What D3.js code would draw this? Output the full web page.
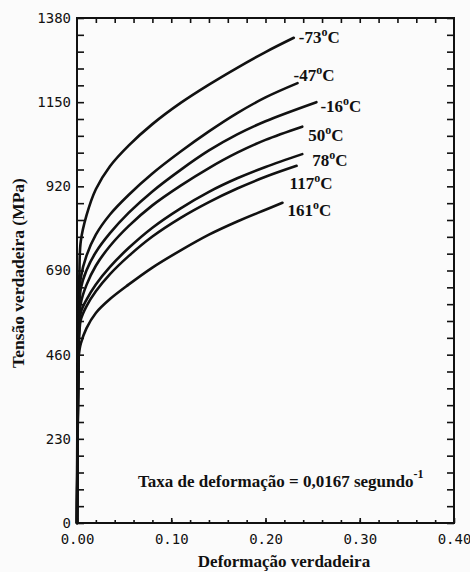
<!DOCTYPE html>
<html>
<head>
<meta charset="utf-8">
<script src="https://cdn.jsdelivr.net/npm/d3@7"></script>
<style>
  body { margin: 0; background: #fbfbfb; }
  .tick text { font-family: "DejaVu Sans Mono", monospace; font-size: 14px; fill: #111; }
  .lbl { font-family: "Liberation Serif", "Times New Roman", serif; font-weight: bold; fill: #111; }
</style>
</head>
<body>
<svg></svg>
<script>
// Curves: [strain, true stress in MPa]
var tempLabels = ["-73", "-47", "-16", "50", "78", "117", "161"];

var curveM73 = [[0,0],[0.0015,470],[0.0025,680],[0.004,770],[0.01,840],[0.02,912],[0.035,975],[0.055,1032],
                [0.08,1090],[0.11,1148],[0.14,1198],[0.17,1244],[0.2,1287],[0.23,1326]];
var curveM47 = [[0,0],[0.0015,470],[0.0025,600],[0.004,670],[0.01,730],[0.02,788],[0.035,843],[0.055,897],
                [0.08,955],[0.11,1015],[0.14,1070],[0.17,1120],[0.2,1163],[0.234,1202]];
var curveM16 = [[0,0],[0.0015,470],[0.0025,580],[0.004,640],[0.01,690],[0.02,740],[0.035,792],[0.055,848],
                [0.08,906],[0.11,965],[0.14,1018],[0.17,1062],[0.2,1098],[0.254,1150]];
var curve50  = [[0,0],[0.0015,470],[0.0025,555],[0.004,600],[0.01,650],[0.02,703],[0.035,757],[0.055,812],
                [0.08,868],[0.11,922],[0.14,970],[0.17,1012],[0.2,1047],[0.239,1083]];
var curve78  = [[0,0],[0.0015,470],[0.0025,535],[0.004,575],[0.01,610],[0.02,652],[0.035,700],[0.055,752],
                [0.08,807],[0.11,860],[0.14,905],[0.17,942],[0.2,973],[0.239,1008]];
var curve117 = [[0,0],[0.0015,470],[0.0025,520],[0.004,555],[0.01,592],[0.02,633],[0.035,680],[0.055,730],
                [0.08,783],[0.11,834],[0.14,877],[0.17,914],[0.2,946],[0.233,976]];
var curve161 = [[0,0],[0.0015,445],[0.0025,470],[0.004,490],[0.01,532],[0.02,574],[0.035,612],[0.055,652],
                [0.08,698],[0.11,745],[0.14,788],[0.17,824],[0.2,856],[0.218,875]];

var curves = [curveM73, curveM47, curveM16, curve50, curve78, curve117, curve161];

var yTickLabels = [0, 230, 460, 690, 920, 1150, 1380];
var xTickLabels = [0, 0.1, 0.2, 0.3, 0.4];

// label offsets from the end of each curve (layout only)
var labelShift = [[5,5],[-4,-2],[4,10],[6,14],[10,12],[-7,23],[5,13]];

var width = 470;
var height = 572;
var padLeft = 77, padRight = 454, padTop = 18, padBottom = 523;

var svg = d3.select("svg")
    .attr("width", width)
    .attr("height", height);

var xScale = d3.scaleLinear().domain([0, 0.4]).range([padLeft, padRight]);
var yScale = d3.scaleLinear().domain([0, 1380]).range([padBottom, padTop]);

// Y axis left, ticks pointing in
svg.append("g")
    .attr("transform", "translate(" + padLeft + ",0)")
    .call(d3.axisLeft(yScale)
        .tickValues(d3.range(0, 1381, 46))
        .tickSizeInner(-7).tickSizeOuter(0).tickPadding(6)
        .tickFormat(function(d) { return yTickLabels.indexOf(d) >= 0 ? d : ""; }));

// right side ticks
svg.append("g")
    .attr("transform", "translate(" + padRight + ",0)")
    .call(d3.axisRight(yScale)
        .tickValues(d3.range(0, 1381, 46))
        .tickSizeInner(-7).tickSizeOuter(0)
        .tickFormat(""));

// top ticks
svg.append("g")
    .attr("transform", "translate(0," + padTop + ")")
    .call(d3.axisTop(xScale)
        .tickValues(d3.range(0.02, 0.399, 0.02))
        .tickSizeInner(-5).tickSizeOuter(0)
        .tickFormat(""));

// bottom minor ticks
svg.append("g")
    .attr("transform", "translate(0," + padBottom + ")")
    .call(d3.axisBottom(xScale)
        .tickValues(d3.range(0.02, 0.399, 0.02))
        .tickSizeInner(-3).tickSizeOuter(0)
        .tickFormat(""));

// bottom labels
svg.append("g")
    .attr("transform", "translate(0," + padBottom + ")")
    .call(d3.axisBottom(xScale)
        .tickValues(xTickLabels)
        .tickSizeInner(-5).tickSizeOuter(0).tickPadding(11)
        .tickFormat(d3.format(".2f")));

svg.selectAll(".domain").remove();
svg.selectAll(".tick line").attr("stroke", "#111").attr("stroke-width", 1.6);

// frame
svg.append("rect")
    .attr("x", padLeft).attr("y", padTop)
    .attr("width", padRight - padLeft).attr("height", padBottom - padTop)
    .attr("fill", "none")
    .attr("stroke", "#111")
    .attr("stroke-width", 2);

// curves
var line = d3.line()
    .x(function(d) { return xScale(d[0]); })
    .y(function(d) { return yScale(d[1]); })
    .curve(d3.curveCatmullRom.alpha(0.5));

svg.append("g")
  .selectAll("path")
  .data(curves)
  .enter()
  .append("path")
    .attr("d", line)
    .attr("fill", "none")
    .attr("stroke", "#111")
    .attr("stroke-width", 2.6)
    .attr("stroke-linecap", "round");

// temperature labels
var lbl = svg.append("g")
  .selectAll("text")
  .data(curves)
  .enter()
  .append("text")
    .attr("class", "lbl")
    .style("font-size", "17px")
    .attr("x", function(d, i) { return xScale(d[d.length - 1][0]) + labelShift[i][0]; })
    .attr("y", function(d, i) { return yScale(d[d.length - 1][1]) + labelShift[i][1]; });

lbl.append("tspan").text(function(d, i) { return tempLabels[i]; });
lbl.append("tspan").attr("dy", "-7").style("font-size", "12px").text("o");
lbl.append("tspan").attr("dy", "7").text("C");

// strain rate note
var note = svg.append("text")
    .attr("class", "lbl")
    .attr("x", 138)
    .attr("y", 487)
    .style("font-size", "17px");
note.append("tspan").text("Taxa de deformação = 0,0167 segundo");
note.append("tspan").attr("dy", "-9").style("font-size", "12px").text("-1");

// axis titles
svg.append("text")
    .attr("class", "lbl")
    .attr("x", 284)
    .attr("y", 567)
    .style("text-anchor", "middle")
    .style("font-size", "17px")
    .text("Deformação verdadeira");

svg.append("text")
    .attr("class", "lbl")
    .attr("transform", "rotate(-90)")
    .attr("x", -273)
    .attr("y", 24)
    .style("text-anchor", "middle")
    .style("font-size", "17.5px")
    .text("Tensão verdadeira (MPa)");
</script>
</body>
</html>
